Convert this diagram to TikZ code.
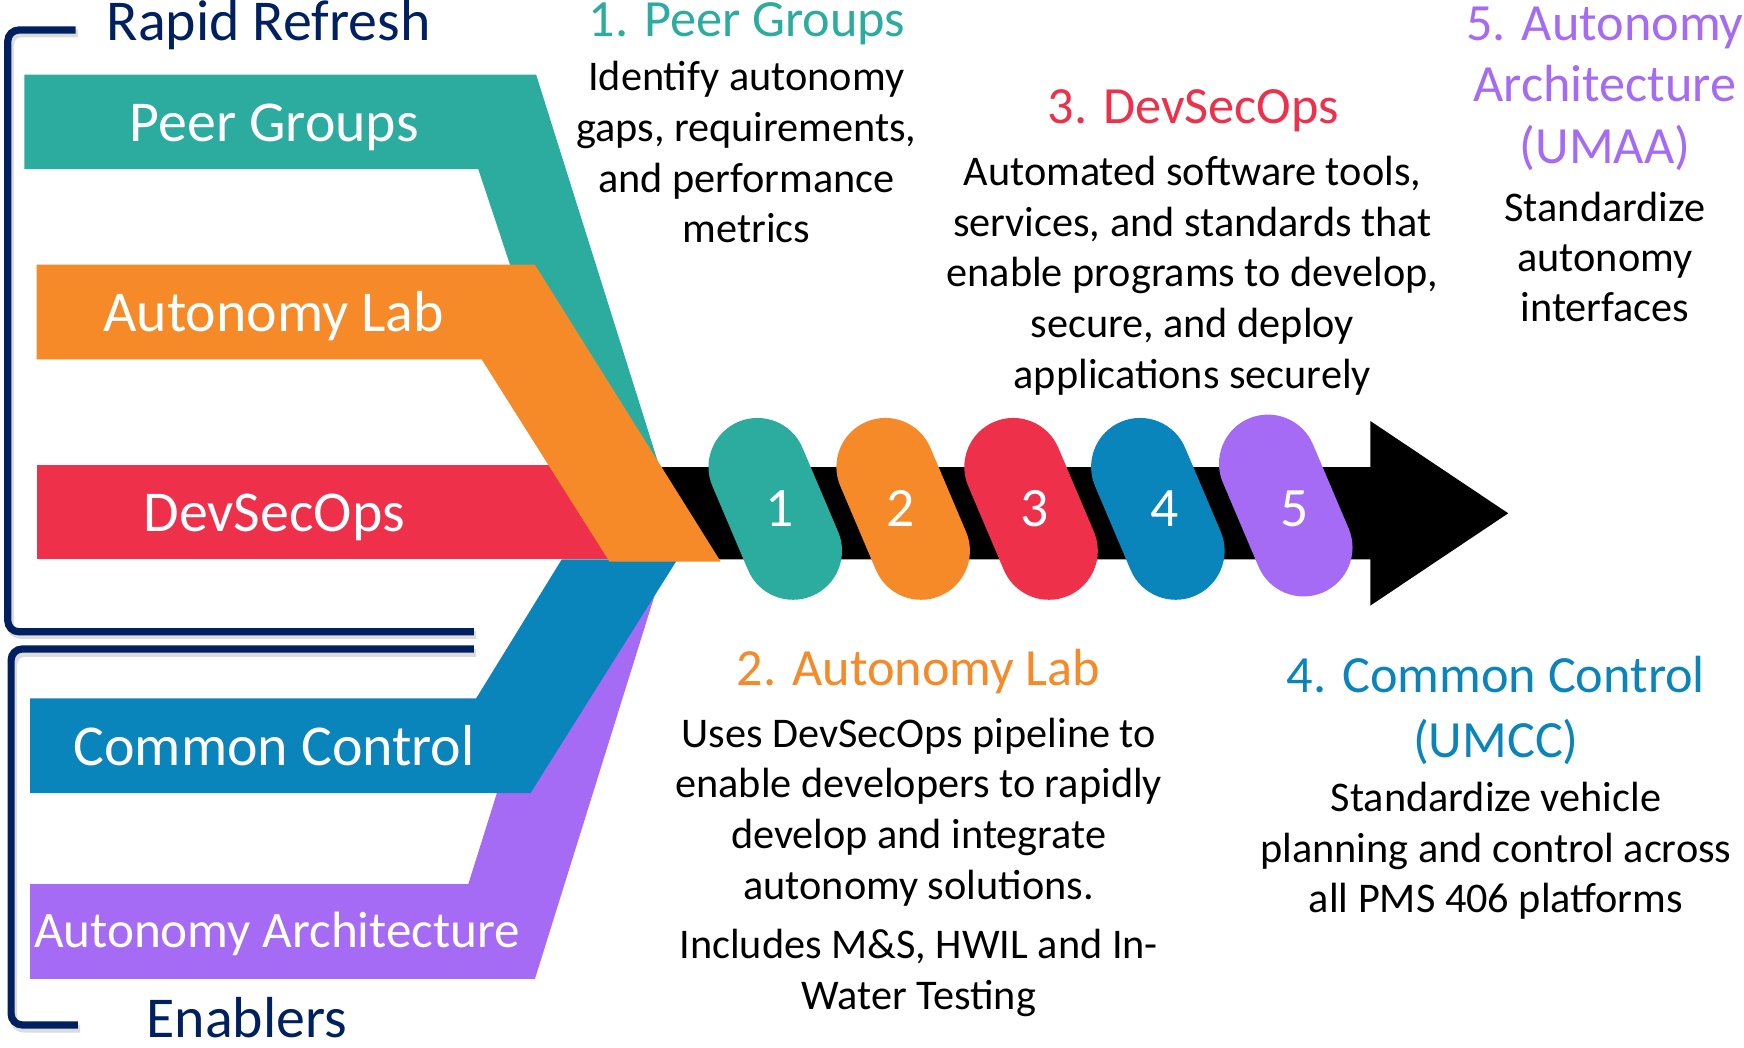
\documentclass[tikz,border=0pt]{standalone}
\usepackage{fontspec}
\setmainfont{Carlito}
\definecolor{cTeal}{HTML}{2BAC9F}
\definecolor{cOrange}{HTML}{F68928}
\definecolor{cRed}{HTML}{EE304B}
\definecolor{cBlue}{HTML}{0A85BB}
\definecolor{cPurple}{HTML}{A66BF5}
\definecolor{cNavy}{HTML}{002060}
\begin{document}
\begin{tikzpicture}[x=1pt,y=-1pt,
  brace/.style={draw=cNavy, line width=6.5, rounded corners=10},
  braceshadow/.style={draw=black!30, opacity=0.45, line width=7, rounded corners=10},
  barlabel/.style={text=white, anchor=base, inner sep=0, font=\fontsize{52}{62}\selectfont},
  grouplabel/.style={text=cNavy, anchor=base, inner sep=0, font=\fontsize{52}{62}\selectfont},
  head/.style={anchor=base, inner sep=0, align=center, font=\fontsize{47}{56.5}\selectfont},
  body/.style={anchor=base, inner sep=0, align=center, font=\fontsize{38}{45.6}\selectfont},
  num/.style={text=white, anchor=base, inner sep=0, font=\fontsize{50}{60}\selectfont},
  pillshape/.style={rounded corners=44}]
\useasboundingbox (0,0) rectangle (1568,942);

% group brackets with a soft shadow
\draw[braceshadow] (70,30) -- (9,30) -- (9,571) -- (428,571);
\draw[braceshadow] (428,587) -- (12,587) -- (12,925) -- (72,925);
\draw[brace] (68,27) -- (7,27) -- (7,568) -- (426,568);
\draw[brace] (426,583.5) -- (10,583.5) -- (10,921.5) -- (70,921.5);
\node[grouplabel] (rapid) at (241.5,36) {Rapid Refresh};
\node[grouplabel] (enablers) at (222,933) {Enablers};

% colored bands converging on the arrow tail
\fill[cTeal] (22,67) -- (482,67) -- (593,420) -- (519,420) -- (430,152) -- (22,152) -- cycle;
\fill[cPurple] (27,795) -- (421,795) -- (512,505) -- (598,505) -- (481,880) -- (27,880) -- cycle;
\fill[cBlue] (27,628) -- (428,628) -- (505,503) -- (609,503) -- (477,713) -- (27,713) -- cycle;
\fill[cRed] (33,418) rectangle (560,503);

% pipeline arrow
\fill[black] (560,420) -- (1232,420) -- (1232,378.5) -- (1356,461.5) -- (1232,544.5) -- (1232,503) -- (560,503) -- cycle;

\fill[cOrange] (33,238) -- (481,238) -- (648,505) -- (548,505) -- (433,323) -- (33,323) -- cycle;

% band labels
\node[barlabel] (lpeer) at (246.5,127) {Peer Groups};
\node[barlabel] (llab) at (246,298) {Autonomy Lab};
\node[barlabel] (ldev) at (246.5,478) {DevSecOps};
\node[barlabel] (lcc) at (246.5,688) {Common Control};
\node[barlabel, font=\fontsize{46}{55}\selectfont] (larch) at (249,852) {Autonomy Architecture};

% numbered capsules on the arrow
\foreach \cx/\cy/\col in {697/457.5/cTeal, 812/457.5/cOrange, 927/457.5/cRed, 1041/457.5/cBlue, 1156/454.5/cPurple}{
  \fill[\col, pillshape, shift={(\cx,\cy)}, rotate=23] (-44,-85) rectangle (44,85);
}
\node[num] (n1) at (701,473.5) {1};
\node[num] (n2) at (810,473.5) {2};
\node[num] (n3) at (930.5,473.5) {3};
\node[num] (n4) at (1047,473.5) {4};
\node[num] (n5) at (1164,473.5) {5};

% descriptions (multi-line nodes sit on the baseline of their last line)
\node[head, text=cTeal] (h1) at (671.5,33) {1. Peer Groups};
\node[body] (b1) at (671,218.3) {Identify autonomy\\gaps, requirements,\\and performance\\metrics};

\node[head, text=cRed] (h3) at (1073,111) {3. DevSecOps};
\node[body] (b3) at (1072,349) {Automated software tools,\\services, and standards that\\enable programs to develop,\\secure, and deploy\\applications securely};

\node[head, text=cPurple, font=\fontsize{47}{55.5}\selectfont] (h5) at (1443,147) {5. Autonomy\\Architecture\\(UMAA)};
\node[body, font=\fontsize{38}{45}\selectfont] (b5) at (1443,289) {Standardize\\autonomy\\interfaces};

\node[head, text=cOrange] (h2) at (826,616) {2. Autonomy Lab};
\node[body] (b2) at (826,808.5) {Uses DevSecOps pipeline to\\enable developers to rapidly\\develop and integrate\\autonomy solutions.};
\node[body] (b2b) at (826,907.5) {Includes M\&S, HWIL and In-\\Water Testing};

\node[head, text=cBlue, font=\fontsize{47}{58}\selectfont] (h4) at (1345,681) {4. Common Control\\(UMCC)};
\node[body, font=\fontsize{38}{45}\selectfont] (b4) at (1345,820) {Standardize vehicle\\planning and control across\\all PMS 406 platforms};
\end{tikzpicture}
\end{document}
